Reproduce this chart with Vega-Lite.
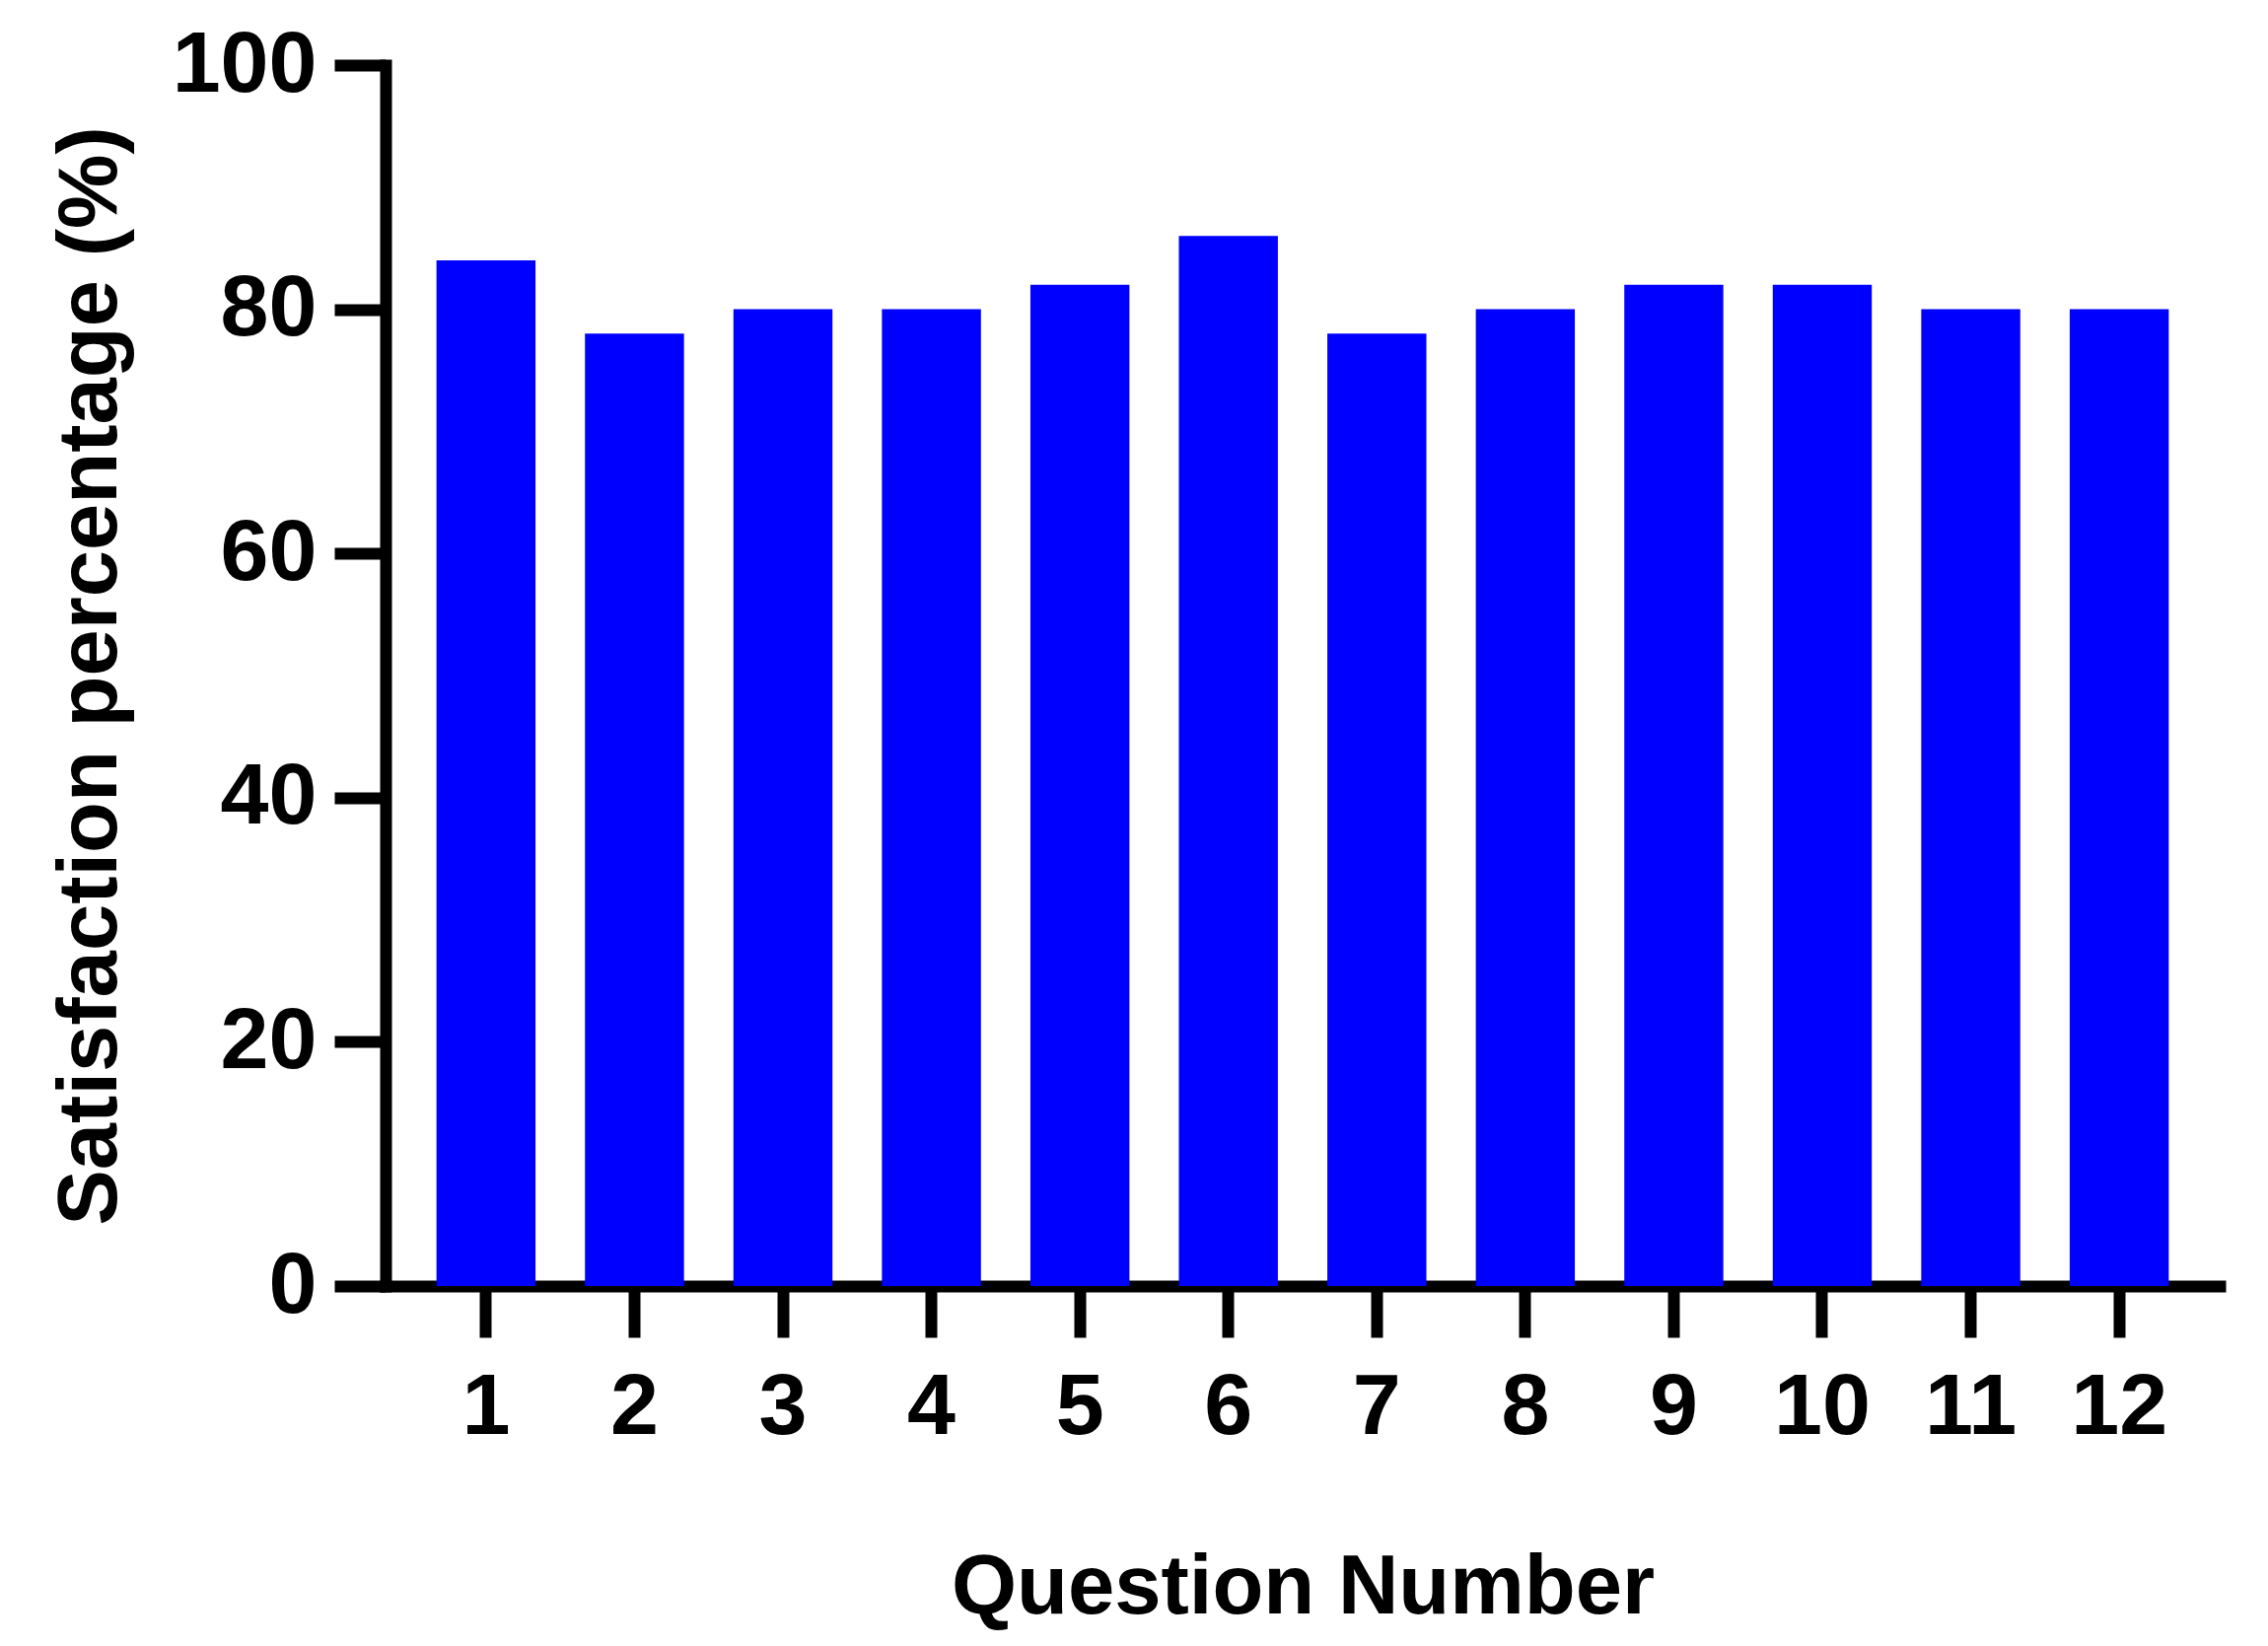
{
  "$schema": "https://vega.github.io/schema/vega-lite/v6.json",
  "autosize": {"type": "none"},
  "padding": {"left": 391, "top": 66, "right": 49, "bottom": 365},
  "width": 1860,
  "height": 1238,
  "background": "white",
  "config": {"view": {"stroke": null}, "font": "Liberation Sans"},
  "data": {"values": [
    {"question": "1", "satisfaction": 84},
    {"question": "2", "satisfaction": 78},
    {"question": "3", "satisfaction": 80},
    {"question": "4", "satisfaction": 80},
    {"question": "5", "satisfaction": 82},
    {"question": "6", "satisfaction": 86},
    {"question": "7", "satisfaction": 78},
    {"question": "8", "satisfaction": 80},
    {"question": "9", "satisfaction": 82},
    {"question": "10", "satisfaction": 82},
    {"question": "11", "satisfaction": 80},
    {"question": "12", "satisfaction": 80}
  ]},
  "mark": {"type": "bar", "color": "#0000FF"},
  "encoding": {
    "x": {
      "field": "question", "type": "ordinal", "sort": null,
      "scale": {"paddingInner": 0.333, "paddingOuter": 0.343},
      "axis": {
        "title": "Question Number",
        "labelAngle": 0,
        "labelFont": "Liberation Sans", "labelFontSize": 88, "labelFontWeight": "bold", "labelColor": "black",
        "labelPadding": 27, "labelBaseline": "top", "labelOverlap": false, "labelBound": false, "labelFlush": false,
        "tickSize": 52, "tickWidth": 12, "tickColor": "black",
        "domainColor": "black", "domainWidth": 12, "domainCap": "square",
        "grid": false,
        "titleFont": "Liberation Sans", "titleFontSize": 85, "titleFontWeight": "bold", "titleColor": "black",
        "titleX": 930, "titleY": 331, "titleBaseline": "alphabetic", "titleAlign": "center"
      }
    },
    "y": {
      "field": "satisfaction", "type": "quantitative",
      "scale": {"domain": [0, 100], "nice": false},
      "axis": {
        "title": "Satisfaction percentage (%)",
        "values": [0, 20, 40, 60, 80, 100],
        "labelFont": "Liberation Sans", "labelFontSize": 88, "labelFontWeight": "bold", "labelColor": "black",
        "labelPadding": 18, "labelBaseline": "middle", "labelOverlap": false, "labelBound": false, "labelFlush": false,
        "tickSize": 52, "tickWidth": 12, "tickColor": "black",
        "domainColor": "black", "domainWidth": 12, "domainCap": "square",
        "grid": false,
        "titleFont": "Liberation Sans", "titleFontSize": 85, "titleFontWeight": "bold", "titleColor": "black",
        "titleAngle": -90, "titleX": -274, "titleY": 619, "titleBaseline": "alphabetic", "titleAlign": "center"
      }
    }
  }
}
